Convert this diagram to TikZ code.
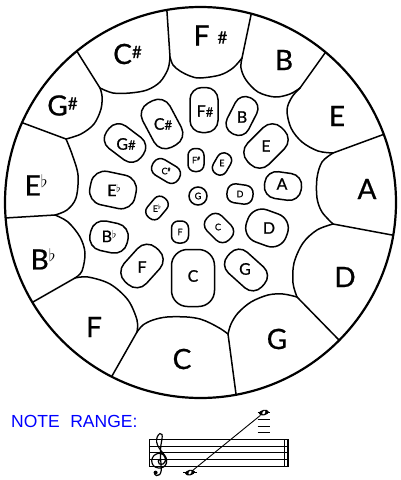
\documentclass[tikz,border=0pt]{standalone}
\usepackage{fontspec}
\setmainfont{Lato}[FakeBold=0.7]
\newfontfamily\arialf{Liberation Sans}
\usetikzlibrary{calc,shapes.geometric}
\begin{document}
\begin{tikzpicture}[x=1pt,y=-1pt,
 ln/.style={line width=1.5pt,line join=round,line cap=round},
 pill/.style={draw,line width=1.5pt,rectangle,inner sep=0pt},
 big/.style={font=\fontsize{28}{28}\selectfont,inner sep=0pt},
 mid/.style={font=\fontsize{16}{16}\selectfont,inner sep=0pt},
 sml/.style={font=\fontsize{9}{9}\selectfont,inner sep=0pt},
 staffline/.style={line width=0.9pt},
 wnote/.style={ellipse,fill=black,minimum width=10pt,minimum height=5.5pt,inner sep=0pt,rotate=12},
]
\useasboundingbox (0,0) rectangle (400,480);
\coordinate (O) at (200.5,202.5);
% junctions and separator ends
\coordinate (J1) at (242,58);   \coordinate (S1) at (251,15);
\coordinate (J2) at (300,88);   \coordinate (S2) at (325,53);
\coordinate (J3) at (333,153);  \coordinate (S3) at (382,135);
\coordinate (J4) at (333,224);  \coordinate (S4) at (392,235);
\coordinate (J5) at (297,297);  \coordinate (S5) at (338,339);
\coordinate (J6) at (228,334);  \coordinate (S6) at (236,394);
\coordinate (J7) at (137,332);  \coordinate (S7) at (112,376);
\coordinate (J8) at (75,278);   \coordinate (S8) at (33,302);
\coordinate (J9) at (55,215);   \coordinate (S9) at (5,218);
\coordinate (J10) at (66,139);  \coordinate (S10) at (23,123);
\coordinate (J11) at (100,88);  \coordinate (S11) at (78,53);
\coordinate (J12) at (170,57);  \coordinate (S12) at (167,12);
\begin{scope}
\clip (O) circle[radius=195.5pt];
\foreach \i in {1,...,12}{\draw[ln] (J\i) -- ($(J\i)!1.4!(S\i)$);}
% inner boundaries of outer fields
\draw[ln] plot[smooth,tension=0.55] coordinates {(170,57) (173,65) (180,71) (190,76) (200,78) (220,75) (233,68) (242,58)};
\draw[ln] plot[smooth,tension=0.55] coordinates {(242,58) (241,68) (246,80) (258,92) (275,97) (290,94) (300,88)};
\draw[ln] plot[smooth,tension=0.55] coordinates {(300,88) (292,97) (287,110) (291,128) (302,142) (318,151) (333,153)};
\draw[ln] plot[smooth,tension=0.55] coordinates {(333,153) (322,162) (317,178) (317,198) (322,212) (333,224)};
\draw[ln] plot[smooth,tension=0.55] coordinates {(333,224) (317,230) (303,243) (294,263) (293,283) (297,297)};
\draw[ln] plot[smooth,tension=0.55] coordinates {(297,297) (283,294) (268,295) (251,302) (238,313) (231,324) (228,334)};
\draw[ln] plot[smooth,tension=0.55] coordinates {(228,334) (221,329) (210,323) (200,319) (187,317) (167,317) (153,320) (143,325) (137,332)};
\draw[ln] plot[smooth,tension=0.55] coordinates {(137,332) (137,320) (128,300) (110,284) (88,277) (75,278)};
\draw[ln] plot[smooth,tension=0.55] coordinates {(75,278) (82,271) (85,253) (80,237) (68,222) (55,215)};
\draw[ln] plot[smooth,tension=0.55] coordinates {(55,215) (67,210) (76,198) (78,175) (72,154) (66,139)};
\draw[ln] plot[smooth,tension=0.55] coordinates {(66,139) (81,134) (94,124) (101,109) (102,96) (100,88)};
\draw[ln] plot[smooth,tension=0.55] coordinates {(100,88) (113,93) (130,93) (147,90) (160,82) (168,69) (170,57)};
\end{scope}
\draw[line width=2.2pt] (O) circle[radius=195.5pt];
% outer labels
\node[big] (oFs) at (210.5,35.5) {F\hspace{8pt}\raisebox{2pt}{\fontsize{17}{17}\selectfont\#}};
\node[big] (oB) at (284,60) {B};
\node[big] (oE) at (337,116) {E};
\node[big] (oA) at (367,189) {A};
\node[big] (oD) at (345,277) {D};
\node[big] (oG) at (277,339) {G};
\node[big] (oC) at (182,359) {C};
\node[big] (oF) at (94,327) {F};
\node[big] (oBb) at (43,259) {B\raisebox{8pt}{\fontsize{17}{17}\selectfont$\flat$}};
\node[big] (oEb) at (36,185) {E\raisebox{8pt}{\fontsize{17}{17}\selectfont$\flat$}};
\node[big] (oGs) at (62.5,105.5) {G\raisebox{6pt}{\fontsize{17}{17}\selectfont\#}};
\node[big] (oCs) at (127.5,54) {C\raisebox{6pt}{\fontsize{17}{17}\selectfont\#}};
% middle ring pills
\node[pill,minimum width=28pt,minimum height=45pt,rounded corners=12pt] (pFs) at (204,110) {};
\node[pill,minimum width=24pt,minimum height=40pt,rounded corners=11pt,rotate=-27] (pB) at (242,116) {};
\node[pill,minimum width=31pt,minimum height=50pt,rounded corners=13pt,rotate=28] (pCs) at (162,124) {};
\node[pill,minimum width=28pt,minimum height=43pt,rounded corners=12pt,rotate=53] (pGs) at (125,143) {};
\node[pill,minimum width=30pt,minimum height=48pt,rounded corners=13pt,rotate=-45] (pE) at (266,146) {};
\node[pill,minimum width=46pt,minimum height=34pt,rounded corners=14pt,rotate=-12] (pEb) at (113,190) {};
\node[pill,minimum width=37pt,minimum height=27pt,rounded corners=12pt,rotate=-8] (pA) at (283,186) {};
\node[pill,minimum width=42pt,minimum height=34pt,rounded corners=15pt,rotate=-20] (pD) at (267,228) {};
\node[pill,minimum width=28pt,minimum height=46pt,rounded corners=12pt,rotate=48] (pG) at (246,270) {};
\node[pill,minimum width=43pt,minimum height=57pt,rounded corners=16pt] (pC) at (193,278) {};
\node[pill,minimum width=30pt,minimum height=46pt,rounded corners=13pt,rotate=-42] (pF) at (142,266) {};
\node[pill,minimum width=38pt,minimum height=30pt,rounded corners=13pt,rotate=-12] (pBb) at (109,237) {};
% middle labels
\node[mid] (lFs) at (205,111) {F{\fontsize{13}{13}\selectfont\#}};
\node[mid] (lCs) at (163,124) {C{\fontsize{13}{13}\selectfont\#}};
\node[mid] (lB) at (242,117) {B};
\node[mid] (lGs) at (126,144) {G{\fontsize{13}{13}\selectfont\#}};
\node[mid] (lE) at (266,146) {E};
\node[mid] (lEb) at (114,190) {E\raisebox{4pt}{\fontsize{11}{11}\selectfont$\flat$}};
\node[mid] (lA) at (282,184) {A};
\node[mid] (lD) at (269,228) {D};
\node[mid] (lG) at (245,269) {G};
\node[mid] (lC) at (193,276) {C};
\node[mid] (lF) at (142,267) {F};
\node[mid] (lBb) at (109,236) {B\raisebox{4pt}{\fontsize{11}{11}\selectfont$\flat$}};
% small ring
\node[pill,minimum width=16pt,minimum height=23pt,rounded corners=7pt] (sFs) at (196,160) {};
\node[pill,minimum width=15pt,minimum height=23pt,rounded corners=7pt,rotate=-30] (sE) at (222,164) {};
\node[pill,minimum width=18pt,minimum height=30pt,rounded corners=8pt,rotate=59] (sCs) at (166,171) {};
\node[draw,line width=1.5pt,circle,minimum size=18pt,inner sep=0pt] (sG) at (198,196) {};
\node[pill,minimum width=26pt,minimum height=19pt,rounded corners=8pt,rotate=-8] (sD) at (240,194) {};
\node[pill,minimum width=16pt,minimum height=25pt,rounded corners=7pt,rotate=-40] (sEb) at (157,208) {};
\node[pill,minimum width=17pt,minimum height=22pt,rounded corners=7pt] (sF) at (180,232) {};
\node[pill,minimum width=21pt,minimum height=31pt,rounded corners=9pt,rotate=45] (sC) at (219,228) {};
\node[sml] (tFs) at (196,160) {F\raisebox{3pt}{\fontsize{5}{5}\selectfont\#}};
\node[sml] (tE) at (222,163) {E};
\node[sml] (tCs) at (166,171) {C\raisebox{3pt}{\fontsize{5}{5}\selectfont\#}};
\node[sml] (tG) at (198,196) {G};
\node[sml] (tD) at (240,194) {D};
\node[sml] (tEb) at (157,208) {E\raisebox{2.5pt}{\fontsize{7}{7}\selectfont$\flat$}};
\node[sml] (tF) at (180,232) {F};
\node[sml] (tC) at (218,227) {C};
% note range
\node[anchor=west,inner sep=0pt,text=blue,font=\arialf\fontsize{17.5}{17.5}\selectfont] (nr) at (11,421.5) {NOTE\hspace{10.5pt}RANGE:};
\foreach \k in {0,...,4}{\draw[staffline] (149,439.3+6.67*\k) -- (288.5,439.3+6.67*\k);}
\draw[staffline] (149,439.3) -- (149,466);
\draw[staffline] (284.5,439.3) -- (284.5,466);
\draw[line width=2pt] (287.5,439.3) -- (287.5,466);
% treble clef
\draw[line width=1.2pt,line cap=round] plot[smooth,tension=0.6] coordinates {(160.5,459) (158.3,461) (159.2,463.8) (163,464) (165.5,460) (163.5,455) (159,453.3) (154,455.5) (151.7,460.5) (153.5,465.8) (158.5,468) (163.5,467) (166.5,463) (166,457.5) (162.5,452.5) (158.8,447.5) (156.6,442) (157.2,437) (159.8,433.6) (162,434.5) (162,439) (160.8,446) (160.4,455) (161,464) (161.2,470.5) (159.6,474.6) (156.5,475.6) (154.6,473.8)};
\fill (155.6,472.6) circle[radius=2pt];
% notes
\draw[staffline] (183,472.6) -- (197,472.6);
\foreach \y in {412.6,419.3,426,432.6}{\draw[staffline] (257.5,\y) -- (270,\y);}
\node[wnote] (lo) at (190,472.6) {};
\node[wnote] (hi) at (263.8,412.6) {};
\fill[white,rotate around={-35:(190,472.6)}] (190,472.6) ellipse[x radius=1.2pt,y radius=2pt];
\fill[white,rotate around={-35:(263.8,412.6)}] (263.8,412.6) ellipse[x radius=1.2pt,y radius=2pt];
\draw[line width=0.9pt] (lo) -- (hi);
\end{tikzpicture}
\end{document}
